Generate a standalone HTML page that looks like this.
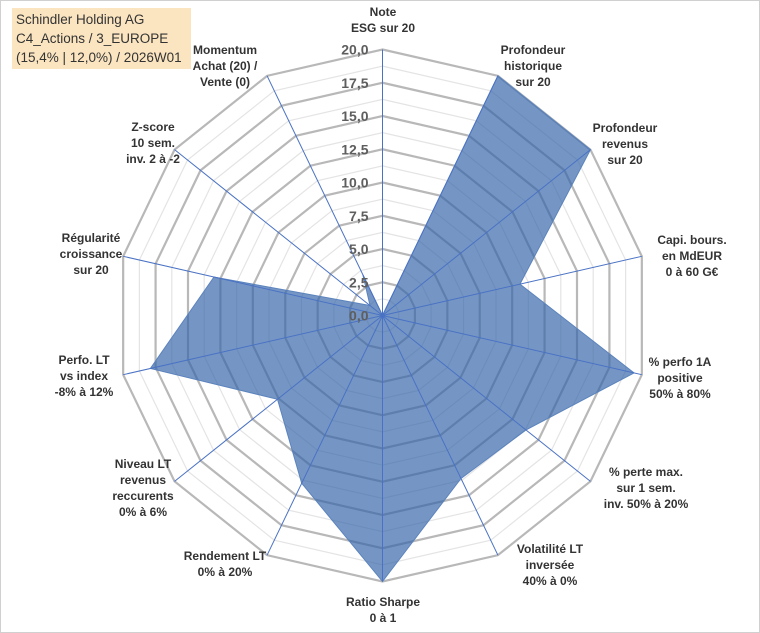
<!DOCTYPE html>
<html><head><meta charset="utf-8"><style>
html,body{margin:0;padding:0;background:#fff}
#wrap{position:relative;width:760px;height:633px;overflow:hidden;font-family:"Liberation Sans",Arial,sans-serif}
#frame{position:absolute;left:0;top:0;width:758px;height:631px;border:1px solid #d0d0d0}
#title{position:absolute;left:12px;top:8px;width:179px;height:61px;background:#fbe5c0;font-size:13.5px;line-height:19px;color:#333;padding:2px 0 0 4px;box-sizing:border-box;font-family:"Liberation Sans",Arial,sans-serif}
svg{position:absolute;left:0;top:0}
</style></head><body>
<div id="wrap">
<div id="frame"></div>
<svg id="chart" width="760" height="633"></svg>
<div id="title">Schindler Holding AG<br>C4_Actions / 3_EUROPE<br>(15,4% | 12,0%) / 2026W01</div>
</div>
<script>
const categories = [
 ["Note","ESG sur 20"],
 ["Profondeur","historique","sur 20"],
 ["Profondeur","revenus","sur 20"],
 ["Capi. bours.","en MdEUR","0 à 60 G€"],
 ["% perfo 1A","positive","50% à 80%"],
 ["% perte max.","sur 1 sem.","inv. 50% à 20%"],
 ["Volatilité LT","inversée","40% à 0%"],
 ["Ratio Sharpe","0 à 1"],
 ["Rendement LT","0% à 20%"],
 ["Niveau LT","revenus","reccurents","0% à 6%"],
 ["Perfo. LT","vs index","-8% à 12%"],
 ["Régularité","croissance","sur 20"],
 ["Z-score","10 sem.","inv. 2 à -2"],
 ["Momentum","Achat (20) /","Vente (0)"]
];
const values = [0, 20, 20, 10.6, 19.4, 13.8, 13.6, 20, 14, 10.1, 17.9, 13.0, 1.2, 3.4];
const tickValues = [0,2.5,5,7.5,10,12.5,15,17.5,20];
const tickLabels = ["0,0","2,5","5,0","7,5","10,0","12,5","15,0","17,5","20,0"];

const NS="http://www.w3.org/2000/svg";
const svg=document.getElementById('chart');
const cx=382.5, cy=315.5, R=266, maxV=20;
const N=categories.length;
function ang(i){return i*2*Math.PI/N;}
function pt(i,v){const r=v/maxV*R;return [cx+r*Math.sin(ang(i)), cy-r*Math.cos(ang(i))];}
function mk(tag,attrs){const e=document.createElementNS(NS,tag);for(const k in attrs)e.setAttribute(k,attrs[k]);svg.appendChild(e);return e;}

// grid rings (major + minor)
for(let v=1.25; v<=maxV+0.001; v+=1.25){
  const major=Math.abs(v/2.5-Math.round(v/2.5))<1e-6;
  const pts=[];for(let i=0;i<N;i++)pts.push(pt(i,v).join(','));
  const g=mk('polygon',{points:pts.join(' '),fill:'none',stroke:major?'#b8b8b8':'#e4e4e4','stroke-width':major?2.2:1.2});
  
  
}
// data polygon
const dp=[];for(let i=0;i<N;i++)dp.push(pt(i,values[i]).join(','));
const poly=mk('polygon',{points:dp.join(' '),fill:'rgba(52,100,168,0.68)',stroke:'#5b83bd','stroke-width':1});


// spokes
for(let i=0;i<N;i++){
  const p=pt(i,maxV);
  const s=mk('line',{x1:cx,y1:cy,x2:p[0],y2:p[1],stroke:'#4a72c4','stroke-width':1});
  
  
}
// tick labels
for(let k=0;k<tickValues.length;k++){
  const y=cy-tickValues[k]/maxV*R+5;
  const t=mk('text',{x:cx-14,y:y,'text-anchor':'end','font-size':14,'font-weight':'bold',fill:'#5e5e5e','font-family':'Liberation Sans, Arial, sans-serif'});
  t.textContent=tickLabels[k];
  
  
}
// category labels
const labelPos=[[383,12],[533,50],[625,128],[692,240],[680,362],[646,472],[550,549],[383,602],[225,556],[143,464],[84,360],[91,238],[153,127],[225,50]];
for(let i=0;i<N;i++){
  const lines=categories[i];
  const t=mk('text',{'text-anchor':'middle','font-size':12,'font-weight':'bold',fill:'#333','font-family':'Liberation Sans, Arial, sans-serif'});
  
  
  lines.forEach((ln,j)=>{const ts=document.createElementNS(NS,'tspan');ts.setAttribute('x',labelPos[i][0]);ts.setAttribute('y',labelPos[i][1]+4+j*16);ts.textContent=ln;t.appendChild(ts);});
}
</script>
</body></html>
